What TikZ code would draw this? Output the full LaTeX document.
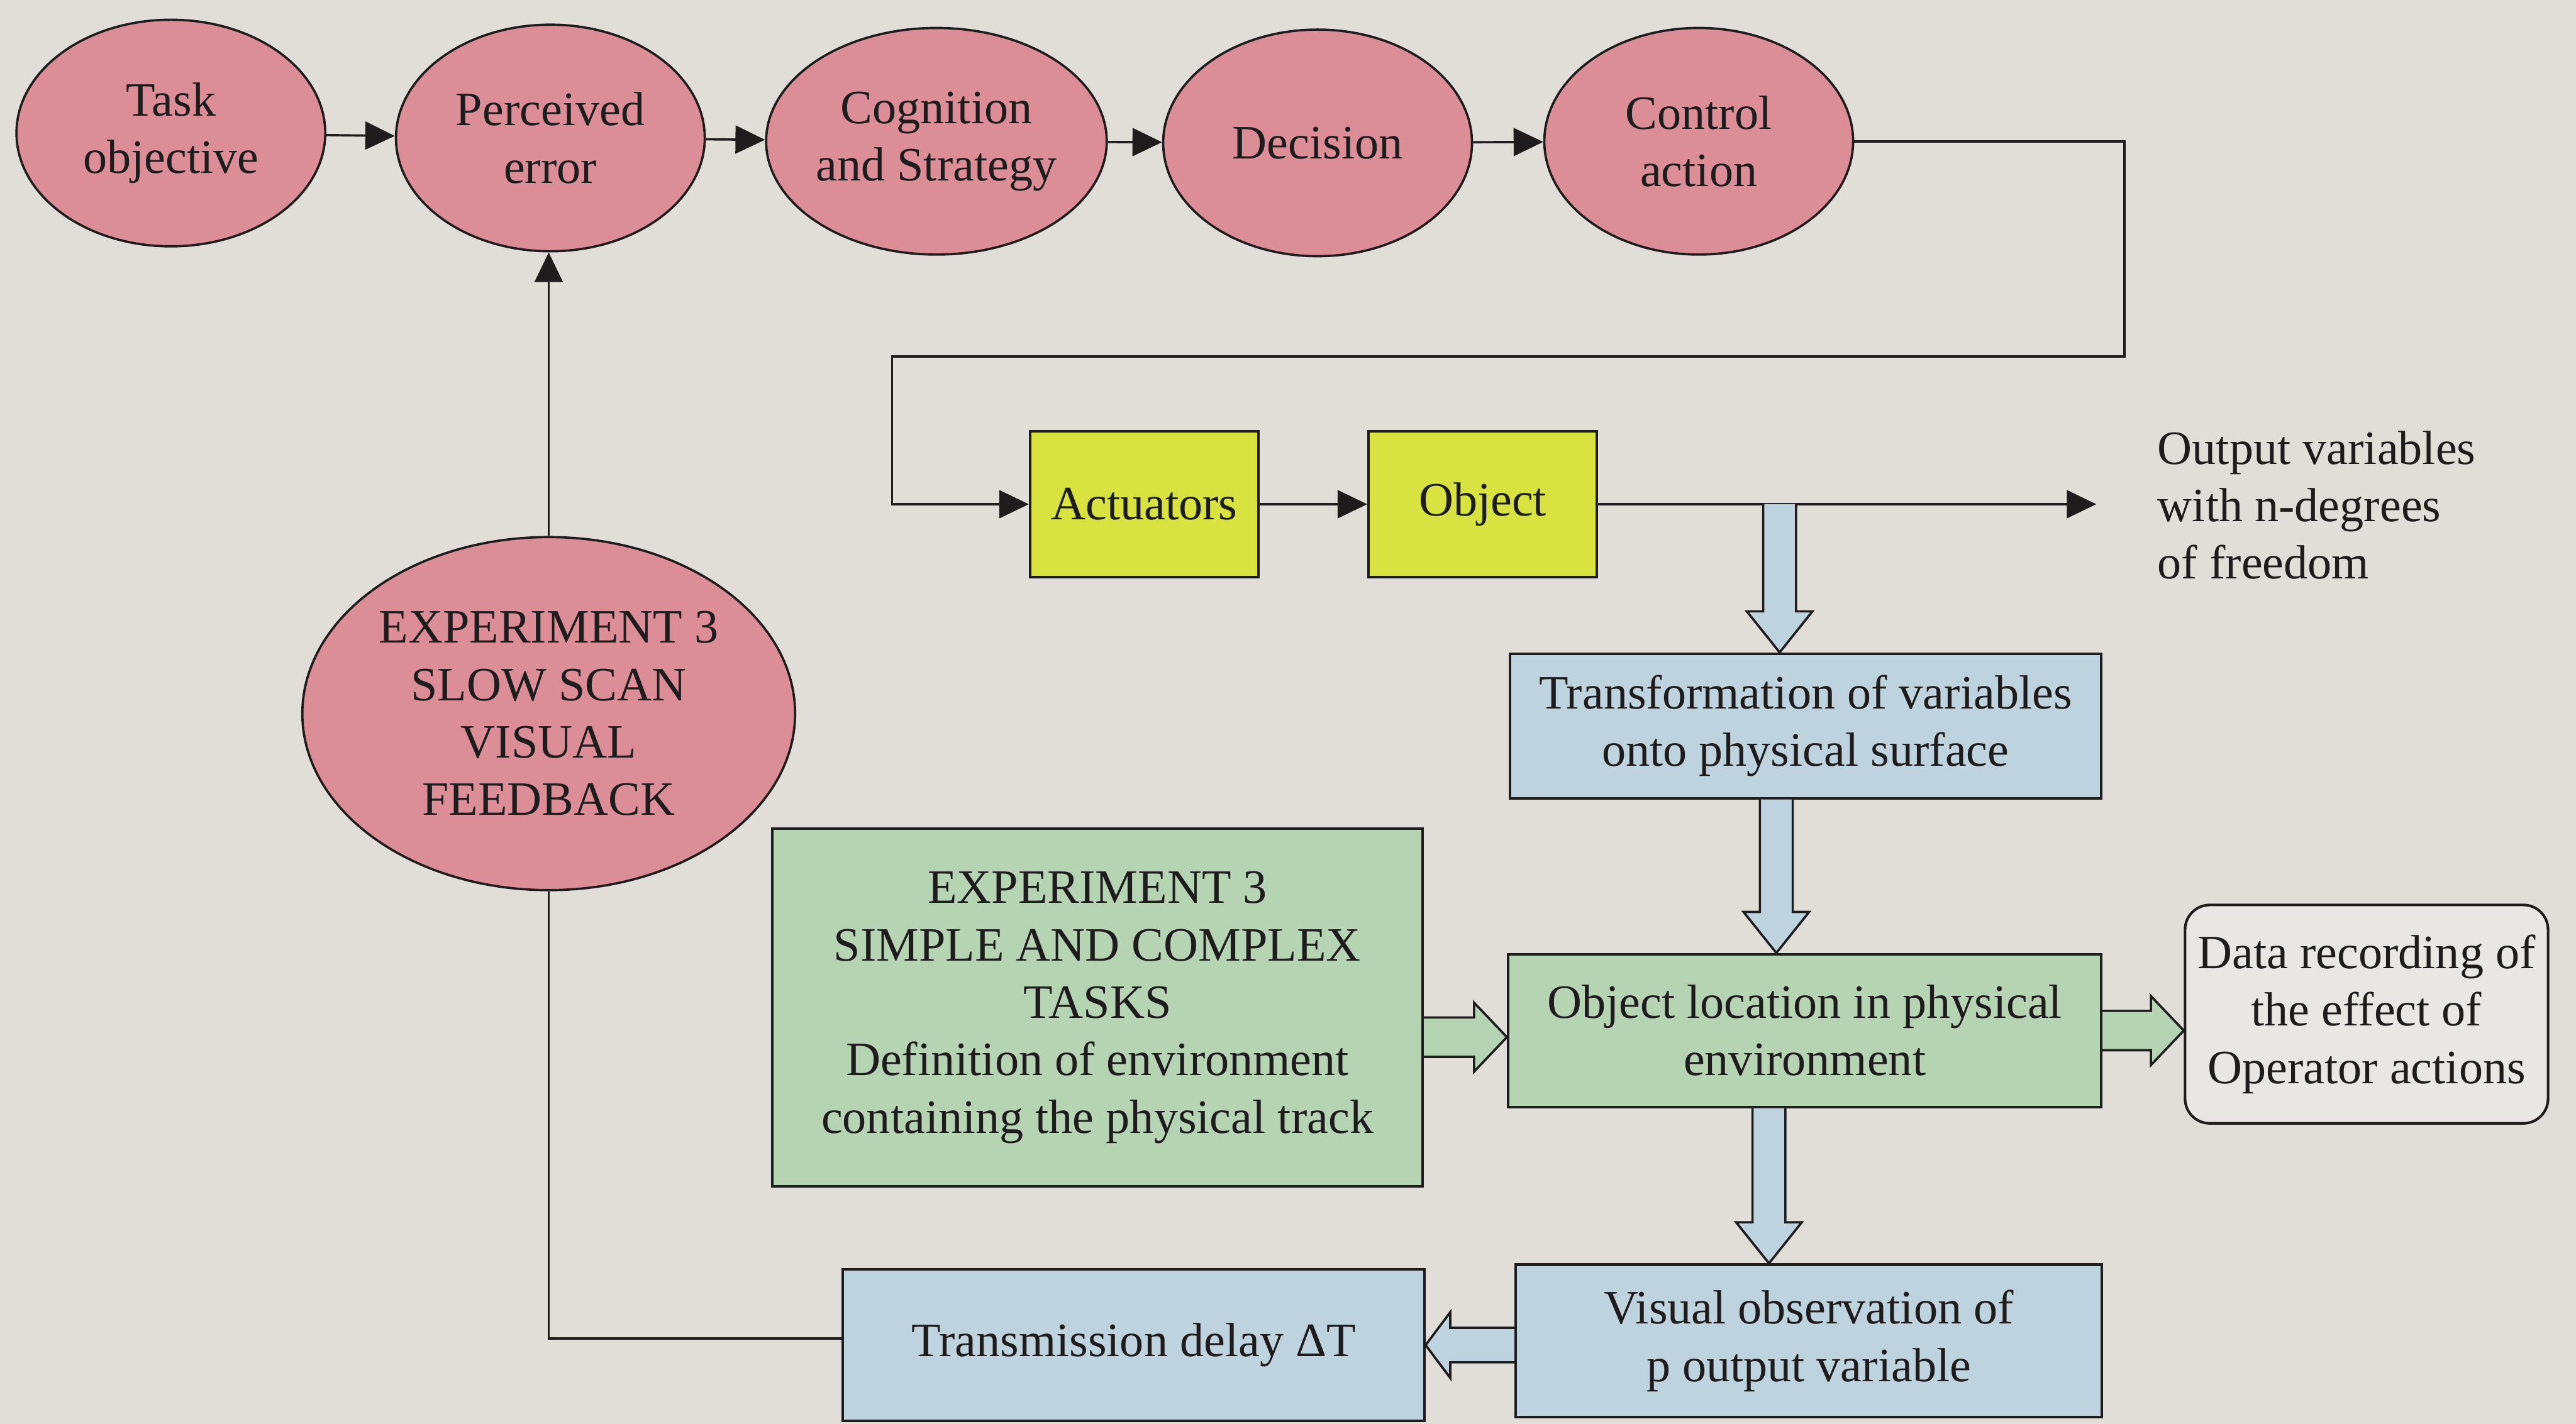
\documentclass[tikz,border=0pt]{standalone}
\usepackage{fontspec}
\setmainfont{Liberation Serif}
\usetikzlibrary{arrows.meta,calc,shapes.geometric}

\definecolor{paper}{RGB}{225,222,217}
\definecolor{rose}{RGB}{219,142,152}
\definecolor{lime}{RGB}{216,226,64}
\definecolor{sky}{RGB}{190,211,221}
\definecolor{mint}{RGB}{182,211,180}
\definecolor{ink}{RGB}{30,28,28}

\tikzset{
  every node/.style={font=\fontsize{16.6pt}{19.9pt}\selectfont, text=ink},
  bubble/.style={ellipse, draw=ink, fill=rose, line width=0.8pt, inner sep=0pt,
                 align=center, minimum width=3.76cm, minimum height=2.76cm},
  box/.style={rectangle, draw=ink, line width=0.9pt, inner sep=0pt, align=center},
  flow/.style={draw=ink, line width=0.8pt},
  arrowhd/.style={-{Triangle[length=0.36cm,width=0.34cm]}},
  blockarrow/.style={draw=ink, line width=0.8pt, line join=miter}
}

% hollow block arrows: #1 start point, #2 tip point, #3 fill colour
\newcommand{\downblock}[3]{%
  \filldraw[blockarrow,fill=#3] let \p1=(#1), \p2=(#2) in
    (\x2-0.2cm,\y1) -- (\x2-0.2cm,\y2+0.5cm) -- (\x2-0.4cm,\y2+0.5cm)
    -- (\x2,\y2) -- (\x2+0.4cm,\y2+0.5cm) -- (\x2+0.2cm,\y2+0.5cm)
    -- (\x2+0.2cm,\y1);}
\newcommand{\rightblock}[3]{%
  \filldraw[blockarrow,fill=#3] let \p1=(#1), \p2=(#2) in
    (\x1,\y2+0.24cm) -- (\x2-0.4cm,\y2+0.24cm) -- (\x2-0.4cm,\y2+0.42cm)
    -- (\x2,\y2) -- (\x2-0.4cm,\y2-0.42cm) -- (\x2-0.4cm,\y2-0.24cm)
    -- (\x1,\y2-0.24cm);}
\newcommand{\leftblock}[3]{%
  \filldraw[blockarrow,fill=#3] let \p1=(#1), \p2=(#2) in
    (\x1,\y2+0.21cm) -- (\x2+0.3cm,\y2+0.21cm) -- (\x2+0.3cm,\y2+0.4cm)
    -- (\x2,\y2) -- (\x2+0.3cm,\y2-0.4cm) -- (\x2+0.3cm,\y2-0.21cm)
    -- (\x1,\y2-0.21cm);}

\begin{document}
\begin{tikzpicture}[x=0.02cm, y=-0.02cm]
  % page
  \fill[paper] (0,0) rectangle (1568,867);
  \useasboundingbox (0,0) rectangle (1568,867);

  % operator chain
  \node[bubble] (task) at (104,81)  {Task\\objective};
  \node[bubble] (perc) at (335,84)  {Perceived\\error};
  \node[bubble] (cogn) at (570,86)  {Cognition\\and Strategy};
  \node[bubble] (deci) at (802,87)  {Decision};
  \node[bubble] (ctrl) at (1034,86) {Control\\action};

  \draw[flow,arrowhd] (task) -- (perc);
  \draw[flow,arrowhd] (perc) -- (cogn);
  \draw[flow,arrowhd] (cogn) -- (deci);
  \draw[flow,arrowhd] (deci) -- (ctrl);

  % feedback ellipse
  \node[ellipse, draw=ink, fill=rose, line width=0.8pt, inner sep=0pt, align=center,
        minimum width=6cm, minimum height=4.3cm] (slow) at (334,434.5)
        {EXPERIMENT 3\\SLOW SCAN\\VISUAL\\FEEDBACK};

  % plant
  \node[box, fill=lime, minimum width=2.78cm, minimum height=1.78cm] (act) at (696.5,307) {Actuators};
  \node[box, fill=lime, minimum width=2.78cm, minimum height=1.78cm] (obj) at (902.5,307) {Object};

  \node[anchor=west, align=left, inner sep=0pt] (outtxt) at (1313,307.5)
        {Output variables\\with n-degrees\\of freedom};
  \coordinate (outend) at (1276,307);

  % routing of the control action
  \coordinate (c1) at (1293,217);
  \coordinate (c2) at (543,217);
  \draw[flow,arrowhd] (ctrl.east) -| (c1) -- (c2) |- (act.west);
  \draw[flow,arrowhd] (act.east) -- (obj.west);
  \draw[flow,arrowhd] (obj.east) -- (outend);

  % environment boxes
  \node[box, fill=sky, minimum width=7.2cm, minimum height=1.76cm] (trans) at (1099,442)
        {Transformation of variables\\onto physical surface};
  \node[box, fill=mint, minimum width=7.22cm, minimum height=1.86cm] (loc) at (1098.5,627.5)
        {Object location in physical\\environment};
  \node[box, fill=mint, minimum width=7.92cm, minimum height=4.36cm] (tasks) at (668,613.5)
        {EXPERIMENT 3\\SIMPLE AND COMPLEX\\TASKS\\Definition of environment\\containing the physical track};
  \node[box, fill=paper!72!white, rounded corners=0.3cm, minimum width=4.42cm, minimum height=2.66cm]
        (rec) at (1440.5,617.5) {Data recording of\\the effect of\\Operator actions};
  \node[box, fill=sky, minimum width=7.14cm, minimum height=1.86cm] (vis) at (1101,816.5)
        {Visual observation of\\p output variable};
  \node[box, fill=sky, minimum width=7.08cm, minimum height=1.84cm] (delay) at (690,819)
        {Transmission delay ΔT};

  % block arrows
  \coordinate (t1) at ($(trans.north west)+(165,0)$);
  \coordinate (s1) at (t1 |- obj.east);
  \downblock{s1}{t1}{sky}

  \coordinate (t2) at ($(loc.north west)+(164,0)$);
  \coordinate (s2) at (t2 |- trans.south);
  \downblock{s2}{t2}{sky}

  \coordinate (t3) at ($(vis.north west)+(155,0)$);
  \coordinate (s3) at (t3 |- loc.south);
  \downblock{s3}{t3}{sky}

  \coordinate (t4) at ($(loc.west)+(0,4)$);
  \coordinate (s4) at (t4 -| tasks.east);
  \rightblock{s4}{t4}{mint}

  \coordinate (t5) at (rec.west |- loc.east);
  \rightblock{loc.east}{t5}{mint}

  \coordinate (s6) at (vis.west |- delay.east);
  \leftblock{s6}{delay.east}{sky}

  % visual feedback loop
  \coordinate (fb) at ($(delay.west)+(0,-4)$);
  \draw[flow] (fb) -| (slow.south);
  \draw[flow,arrowhd] (slow.north) -- (slow.north |- perc.south);
\end{tikzpicture}
\end{document}
